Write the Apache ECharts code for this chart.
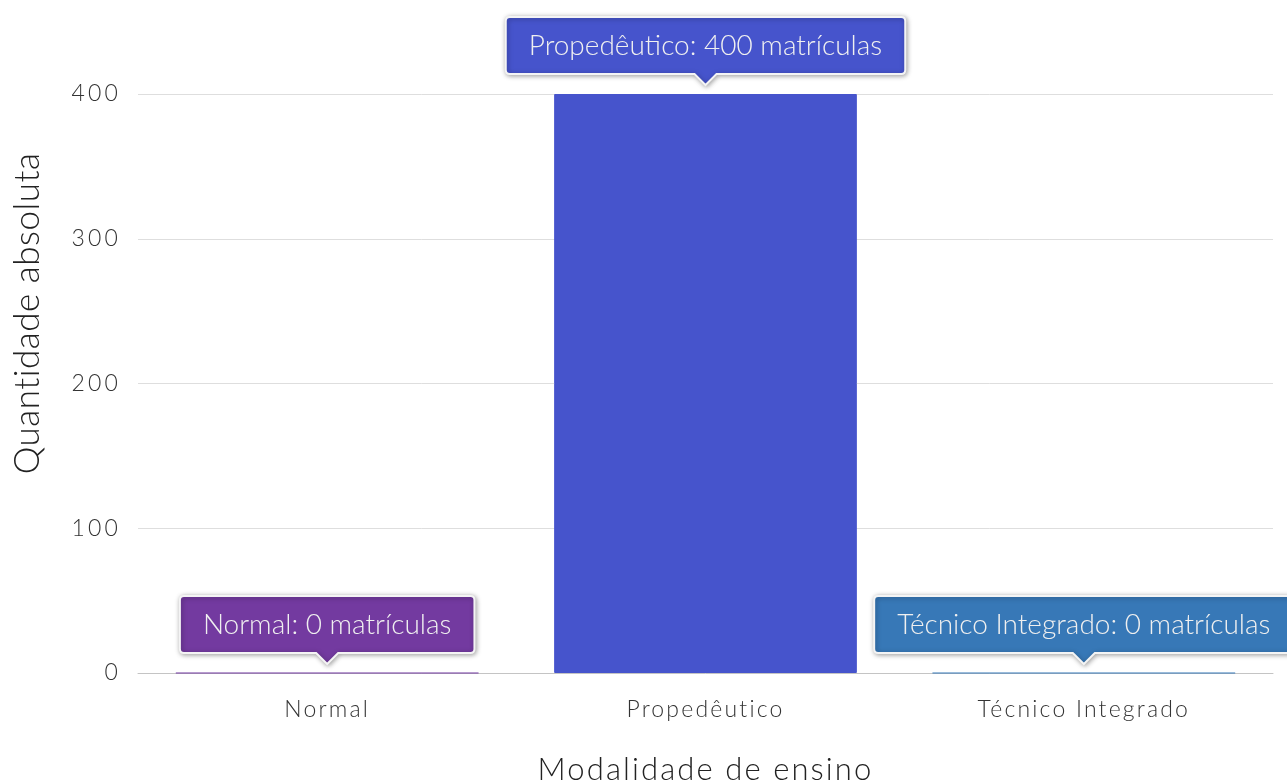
<!DOCTYPE html>
<html>
<head>
<meta charset="utf-8">
<script src="https://cdn.jsdelivr.net/npm/echarts@6/dist/echarts.min.js"></script>
<style>
html,body{margin:0;padding:0;background:#fff;}
#chart{width:1287px;height:783px;}
</style>
</head>
<body>
<div id="chart"></div>
<script>
var categories = ['Normal', 'Propedêutico', 'Técnico Integrado'];
var values = [0, 400, 0];
var colors = ['#733aa0', '#4654cc', '#3778b7'];
var yTicks = [0, 100, 200, 300, 400];
var unitLabel = 'matrículas';

// letter-spacing support: a font family marker 'LSx' applies x px tracking
(function () {
  var P = CanvasRenderingContext2D.prototype;
  if (!('letterSpacing' in P)) return;
  var ft = P.fillText, st = P.strokeText, mt = P.measureText;
  function apply(ctx) {
    var m = /LS(\d+(?:\.\d+)?)/.exec(ctx.font || '');
    var ls = m ? m[1] + 'px' : '0px';
    if (ctx.letterSpacing !== ls) ctx.letterSpacing = ls;
  }
  P.fillText = function () { apply(this); return ft.apply(this, arguments); };
  P.strokeText = function () { apply(this); return st.apply(this, arguments); };
  P.measureText = function () { apply(this); return mt.apply(this, arguments); };
})();

function fam(ls) { return ls ? "'LS" + ls + "', Lato" : 'Lato'; }

var labelFontSize = 28;
var measureCtx = document.createElement('canvas').getContext('2d');
function textWidth(t) {
  measureCtx.font = '300 ' + labelFontSize + 'px Lato';
  return measureCtx.measureText(t).width;
}

var chart = echarts.init(document.getElementById('chart'));
var option = {
  animation: false,
  backgroundColor: '#fff',
  grid: { left: 138, right: 14, top: 94, bottom: 110, outerBoundsMode: 'none', containLabel: false },
  xAxis: {
    type: 'category',
    data: categories,
    name: 'Modalidade de ensino',
    nameLocation: 'middle',
    nameGap: 80,
    nameTextStyle: { fontFamily: fam(2.1), fontWeight: 300, fontSize: 31, color: '#222' },
    axisLine: { lineStyle: { color: '#c4c4c4', width: 1 } },
    axisTick: { show: false },
    axisLabel: { fontFamily: fam(2.2), fontWeight: 300, fontSize: 23, color: '#333', margin: 24 }
  },
  yAxis: {
    type: 'value',
    min: yTicks[0],
    max: yTicks[yTicks.length - 1],
    interval: 100,
    name: 'Quantidade absoluta',
    nameLocation: 'middle',
    nameGap: 93,
    nameTextStyle: { fontFamily: fam(0.5), fontWeight: 300, fontSize: 35, color: '#222', padding: [0, 0, 0, 140] },
    axisLine: { show: false },
    axisTick: { show: false },
    splitLine: { lineStyle: { color: '#dedede', width: 1 } },
    axisLabel: { fontFamily: fam(3.2), fontWeight: 300, fontSize: 23, color: '#333', margin: 17 }
  },
  series: [
    {
      type: 'bar',
      barCategoryGap: '20%',
      data: values.map(function (v, i) {
        return { value: v, itemStyle: { color: colors[i], borderColor: colors[i], borderWidth: 1, opacity: 0.6 + (v > 0 ? 0.4 : 0) } };
      }),
      z: 2
    },
    {
      type: 'custom',
      data: values.map(function (v, i) { return [i, v]; }),
      z: 10,
      clip: false,
      renderItem: function (params, api) {
        var idx = api.value(0);
        var v = api.value(1);
        var pt = api.coord([idx, v]);
        var txt = categories[idx] + ': ' + v + ' ' + unitLabel;
        var tw = textWidth(txt);
        var w = tw + 46;
        var h = 57;
        var tipY = pt[1] - 9;
        var boxBottom = tipY - 11;
        var boxTop = boxBottom - h;
        var cx = pt[0];
        var x0 = cx - w / 2, x1 = cx + w / 2;
        var r = 4, aw = 11;
        var d = 'M' + (x0 + r) + ' ' + boxTop +
          ' L' + (x1 - r) + ' ' + boxTop +
          ' Q' + x1 + ' ' + boxTop + ' ' + x1 + ' ' + (boxTop + r) +
          ' L' + x1 + ' ' + (boxBottom - r) +
          ' Q' + x1 + ' ' + boxBottom + ' ' + (x1 - r) + ' ' + boxBottom +
          ' L' + (cx + aw) + ' ' + boxBottom +
          ' L' + cx + ' ' + tipY +
          ' L' + (cx - aw) + ' ' + boxBottom +
          ' L' + (x0 + r) + ' ' + boxBottom +
          ' Q' + x0 + ' ' + boxBottom + ' ' + x0 + ' ' + (boxBottom - r) +
          ' L' + x0 + ' ' + (boxTop + r) +
          ' Q' + x0 + ' ' + boxTop + ' ' + (x0 + r) + ' ' + boxTop + ' Z';
        return {
          type: 'group',
          children: [
            {
              type: 'path',
              shape: { pathData: d },
              style: {
                fill: colors[idx],
                stroke: '#f4f4f4',
                lineWidth: 2,
                shadowBlur: 5,
                shadowColor: 'rgba(0,0,0,0.35)',
                shadowOffsetX: 1,
                shadowOffsetY: 1
              }
            },
            {
              type: 'text',
              x: cx,
              y: boxTop + h / 2,
              style: {
                text: txt,
                fill: '#f0f0f0',
                font: '300 ' + labelFontSize + 'px Lato',
                align: 'center',
                verticalAlign: 'middle'
              }
            }
          ]
        };
      }
    }
  ]
};
chart.setOption(option);
</script>
</body>
</html>
